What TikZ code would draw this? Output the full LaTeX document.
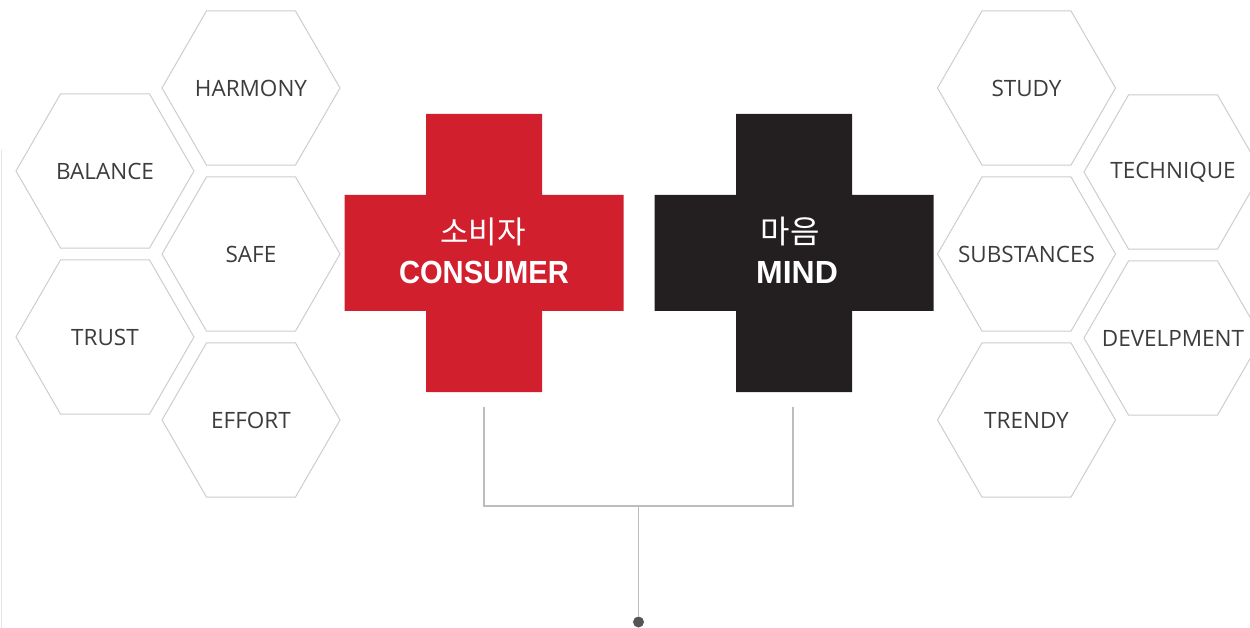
\documentclass[tikz,border=0pt]{standalone}
\usepackage{fontspec}
\setmainfont{Open Sans}
\newfontfamily\boldlat{Liberation Sans}
\newfontfamily\kor{Noto Sans CJK KR}
\usetikzlibrary{shapes.geometric}
\definecolor{crossred}{HTML}{D21F2E}
\definecolor{crossblack}{HTML}{231F20}
\definecolor{hexline}{HTML}{CDCDCD}
\definecolor{hextext}{HTML}{3C3C3C}
\definecolor{linkgray}{HTML}{BDBDBD}
\definecolor{dotgray}{HTML}{555555}
\tikzset{
  hexbox/.style={regular polygon, regular polygon sides=6,
    minimum size=178pt, inner sep=0pt, outer sep=0pt, draw=hexline, line width=1pt,
    label={[hextxt]center:#1}},
  hextxt/.style={text=hextext, inner sep=0pt, font=\fontsize{22.5}{24}\selectfont},
  crosslabel/.style={text=white, align=center, inner sep=0pt},
  link/.style={draw=linkgray, line width=1.4pt},
}
\newcommand{\crossshape}[3]{% center x, center y, colour
  \fill[#3] (#1-58,#2-139) -- (#1+58,#2-139) -- (#1+58,#2-58) -- (#1+139.5,#2-58)
    -- (#1+139.5,#2+58) -- (#1+58,#2+58) -- (#1+58,#2+139) -- (#1-58,#2+139)
    -- (#1-58,#2+58) -- (#1-139.5,#2+58) -- (#1-139.5,#2-58) -- (#1-58,#2-58) -- cycle;}
\begin{document}
\begin{tikzpicture}[x=1pt,y=-1pt]
\useasboundingbox (0,0) rectangle (1250,628);
\clip (0,0) rectangle (1250,628);
% faint left edge line
\draw[gray!20, line width=0.8pt] (1,150) -- (1,628);
% left hexagons
\node[hexbox=HARMONY] (harmony) at (251,88) {};
\node[hexbox=BALANCE] (balance) at (105,171) {};
\node[hexbox=SAFE] (safe) at (251,254) {};
\node[hexbox=TRUST] (trust) at (105,337) {};
\node[hexbox=EFFORT] (effort) at (251,420) {};
% right hexagons
\node[hexbox=STUDY] (study) at (1026.5,88) {};
\node[hexbox=TECHNIQUE] (technique) at (1173,172) {};
\node[hexbox=SUBSTANCES] (substances) at (1026.5,254) {};
\node[hexbox=DEVELPMENT] (develpment) at (1173,338) {};
\node[hexbox=TRENDY] (trendy) at (1026.5,420) {};
% crosses
\crossshape{484}{253}{crossred}
\crossshape{794}{253}{crossblack}
\node[crosslabel] (consumerk) at (483,232) {\kor\fontsize{31}{33}\selectfont 소비자};
\node[crosslabel] (consumer) at (484,272) {\scalebox{0.91}[1]{\boldlat\bfseries\fontsize{32}{34}\selectfont CONSUMER}};
\node[crosslabel] (mindk) at (790,232) {\kor\fontsize{32}{34}\selectfont 마음};
\node[crosslabel] (mind) at (797,272) {\boldlat\bfseries\fontsize{32}{34}\selectfont MIND};
% connector
\coordinate (redfoot) at (484,407);
\coordinate (blackfoot) at (793,407);
\coordinate (joint) at (638.5,506);
\node[circle, fill=dotgray, inner sep=0pt, minimum size=11pt] (dot) at (638.5,622) {};
\draw[link] (redfoot) |- (joint) -| (blackfoot);
\draw[link] (joint) -- (dot);
\end{tikzpicture}
\end{document}
